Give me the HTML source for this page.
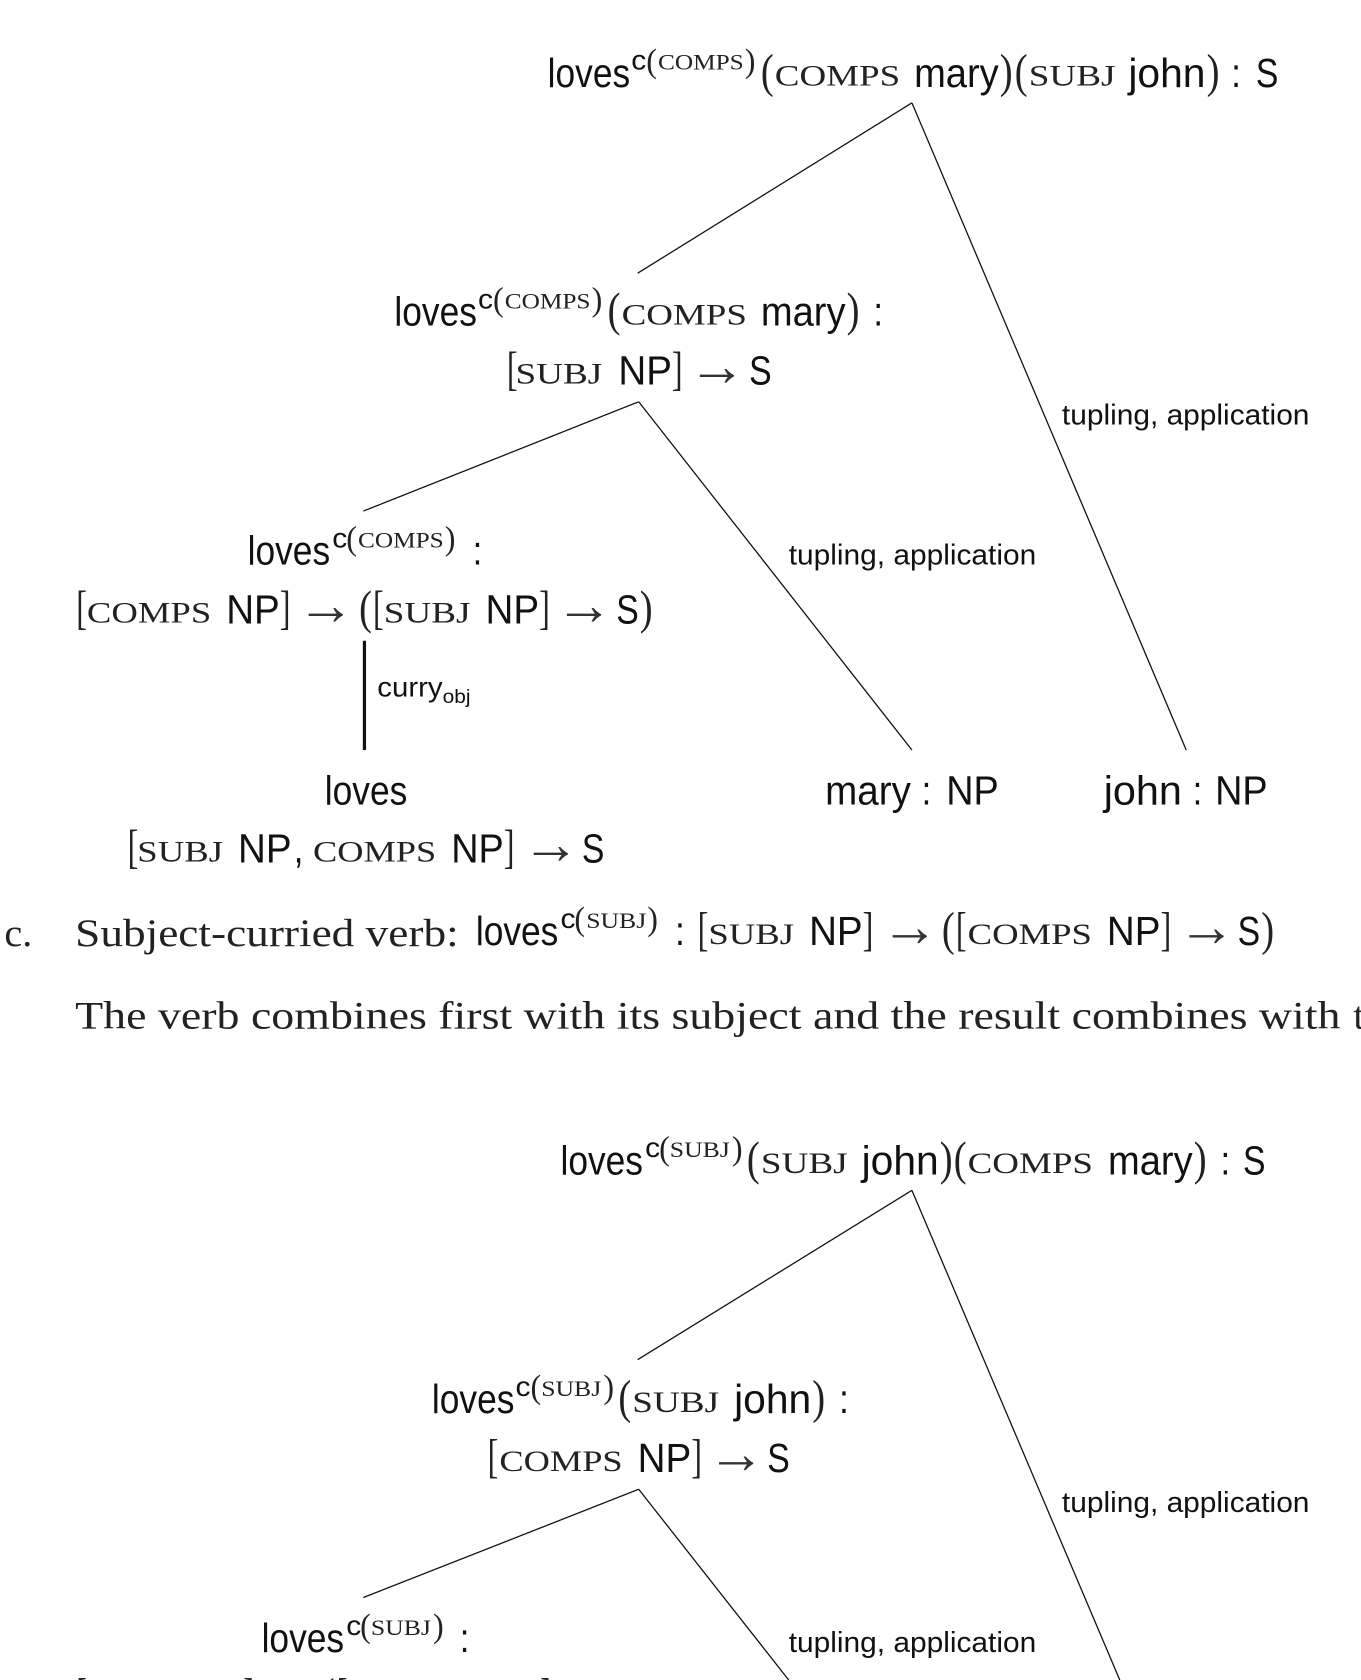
<!DOCTYPE html>
<html><head><meta charset="utf-8"><style>
html,body{margin:0;padding:0;background:#fff;overflow:hidden}
svg{display:block;position:absolute;left:0;top:0}
text{fill:#111;white-space:pre}
.s{font:38px "Liberation Sans",sans-serif;transform:translateY(-1px)}
.l{font:27px "Liberation Sans",sans-serif;transform:translateY(1px)}
.c{font:28px "Liberation Serif",serif;fill:#222;transform:translateY(-2px)}
.u{font:21px "Liberation Serif",serif;fill:#222}
.p{font:44px "Liberation Serif",serif;fill:#222;transform:translateY(-1px)}
.q{font:32px "Liberation Serif",serif;fill:#222;transform:translateY(2px)}
.k{font:26px "Liberation Sans",sans-serif}
.a{font:54px "Liberation Serif",serif;fill:#333}
.r{font:37px "Liberation Serif",serif;fill:#222}
line{stroke:#111;stroke-width:1.2}
</style></head><body>
<svg width="1361" height="1680" viewBox="0 0 1270 1568" xmlns="http://www.w3.org/2000/svg">
<!-- Tree 1 lines -->
<line x1="851" y1="96" x2="595" y2="255"/><line x1="851" y1="96" x2="1107" y2="700"/>
<line x1="596" y1="375" x2="339" y2="477"/><line x1="596" y1="375" x2="851" y2="700"/>
<line x1="340" y1="598" x2="340" y2="700" style="stroke-width:3"/>
<text class="l" x="991" y="395" textLength="231" lengthAdjust="spacingAndGlyphs">tupling, application</text>
<text class="l" x="736" y="526" textLength="231" lengthAdjust="spacingAndGlyphs">tupling, application</text>
<!-- Top node -->
<text class="s" x="511" y="82" textLength="77" lengthAdjust="spacingAndGlyphs">loves</text>
<text class="k" x="589" y="65" textLength="14" lengthAdjust="spacingAndGlyphs">c</text>
<text class="q" x="603" y="65" textLength="10" lengthAdjust="spacingAndGlyphs">(</text>
<text class="u" x="614" y="65" textLength="80" lengthAdjust="spacingAndGlyphs">COMPS</text>
<text class="q" x="695" y="65" textLength="10" lengthAdjust="spacingAndGlyphs">)</text>
<text class="p" x="710" y="82" textLength="12" lengthAdjust="spacingAndGlyphs">(</text>
<text class="c" x="723" y="82" textLength="117" lengthAdjust="spacingAndGlyphs">COMPS</text>
<text class="s" x="853" y="82" textLength="79" lengthAdjust="spacingAndGlyphs">mary</text>
<text class="p" x="933" y="82" textLength="12" lengthAdjust="spacingAndGlyphs">)</text>
<text class="p" x="947" y="82" textLength="12" lengthAdjust="spacingAndGlyphs">(</text>
<text class="c" x="960" y="82" textLength="81" lengthAdjust="spacingAndGlyphs">SUBJ</text>
<text class="s" x="1053" y="82" textLength="72" lengthAdjust="spacingAndGlyphs">john</text>
<text class="p" x="1126" y="82" textLength="12" lengthAdjust="spacingAndGlyphs">)</text>
<text class="s" x="1149" y="82" textLength="9" lengthAdjust="spacingAndGlyphs">:</text>
<text class="s" x="1172" y="82" textLength="21" lengthAdjust="spacingAndGlyphs">S</text>
<!-- Node 2 -->
<text class="s" x="368" y="305" textLength="77" lengthAdjust="spacingAndGlyphs">loves</text>
<text class="k" x="446" y="288" textLength="14" lengthAdjust="spacingAndGlyphs">c</text>
<text class="q" x="460" y="288" textLength="10" lengthAdjust="spacingAndGlyphs">(</text>
<text class="u" x="471" y="288" textLength="80" lengthAdjust="spacingAndGlyphs">COMPS</text>
<text class="q" x="552" y="288" textLength="10" lengthAdjust="spacingAndGlyphs">)</text>
<text class="p" x="567" y="305" textLength="12" lengthAdjust="spacingAndGlyphs">(</text>
<text class="c" x="580" y="305" textLength="117" lengthAdjust="spacingAndGlyphs">COMPS</text>
<text class="s" x="710" y="305" textLength="79" lengthAdjust="spacingAndGlyphs">mary</text>
<text class="p" x="790" y="305" textLength="12" lengthAdjust="spacingAndGlyphs">)</text>
<text class="s" x="815" y="305" textLength="9" lengthAdjust="spacingAndGlyphs">:</text>
<text class="p" x="473" y="360" textLength="10" lengthAdjust="spacingAndGlyphs">[</text>
<text class="c" x="481" y="360" textLength="81" lengthAdjust="spacingAndGlyphs">SUBJ</text>
<text class="s" x="577" y="360" textLength="50" lengthAdjust="spacingAndGlyphs">NP</text>
<text class="p" x="627" y="360" textLength="10" lengthAdjust="spacingAndGlyphs">]</text>
<text class="a" x="642" y="360" textLength="54" lengthAdjust="spacingAndGlyphs">→</text>
<text class="s" x="699" y="360" textLength="21" lengthAdjust="spacingAndGlyphs">S</text>
<!-- Node 3 -->
<text class="s" x="231" y="528" textLength="77" lengthAdjust="spacingAndGlyphs">loves</text>
<text class="k" x="310" y="511" textLength="14" lengthAdjust="spacingAndGlyphs">c</text>
<text class="q" x="323" y="511" textLength="10" lengthAdjust="spacingAndGlyphs">(</text>
<text class="u" x="334" y="511" textLength="80" lengthAdjust="spacingAndGlyphs">COMPS</text>
<text class="q" x="415" y="511" textLength="10" lengthAdjust="spacingAndGlyphs">)</text>
<text class="s" x="441" y="528" textLength="9" lengthAdjust="spacingAndGlyphs">:</text>
<text class="p" x="71" y="583" textLength="10" lengthAdjust="spacingAndGlyphs">[</text>
<text class="c" x="81" y="583" textLength="116" lengthAdjust="spacingAndGlyphs">COMPS</text>
<text class="s" x="211" y="583" textLength="50" lengthAdjust="spacingAndGlyphs">NP</text>
<text class="p" x="261" y="583" textLength="10" lengthAdjust="spacingAndGlyphs">]</text>
<text class="a" x="277" y="583" textLength="54" lengthAdjust="spacingAndGlyphs">→</text>
<text class="p" x="335" y="583" textLength="12" lengthAdjust="spacingAndGlyphs">(</text>
<text class="p" x="348" y="583" textLength="10" lengthAdjust="spacingAndGlyphs">[</text>
<text class="c" x="358" y="583" textLength="81" lengthAdjust="spacingAndGlyphs">SUBJ</text>
<text class="s" x="453" y="583" textLength="50" lengthAdjust="spacingAndGlyphs">NP</text>
<text class="p" x="503" y="583" textLength="10" lengthAdjust="spacingAndGlyphs">]</text>
<text class="a" x="518" y="583" textLength="54" lengthAdjust="spacingAndGlyphs">→</text>
<text class="s" x="575" y="583" textLength="21" lengthAdjust="spacingAndGlyphs">S</text>
<text class="p" x="597" y="583" textLength="12" lengthAdjust="spacingAndGlyphs">)</text>
<text class="k" x="352" y="650" textLength="61" lengthAdjust="spacingAndGlyphs">curry</text>
<text style="font:18px 'Liberation Sans',sans-serif" x="413" y="656" textLength="26" lengthAdjust="spacingAndGlyphs">obj</text>
<!-- Leaves -->
<text class="s" x="303" y="752" textLength="77" lengthAdjust="spacingAndGlyphs">loves</text>
<text class="s" x="770" y="752" textLength="80" lengthAdjust="spacingAndGlyphs">mary</text>
<text class="s" x="860" y="752" textLength="9" lengthAdjust="spacingAndGlyphs">:</text>
<text class="s" x="883" y="752" textLength="49" lengthAdjust="spacingAndGlyphs">NP</text>
<text class="s" x="1030" y="752" textLength="73" lengthAdjust="spacingAndGlyphs">john</text>
<text class="s" x="1113" y="752" textLength="9" lengthAdjust="spacingAndGlyphs">:</text>
<text class="s" x="1134" y="752" textLength="49" lengthAdjust="spacingAndGlyphs">NP</text>
<text class="p" x="119" y="806" textLength="10" lengthAdjust="spacingAndGlyphs">[</text>
<text class="c" x="128" y="806" textLength="80" lengthAdjust="spacingAndGlyphs">SUBJ</text>
<text class="s" x="222" y="806" textLength="50" lengthAdjust="spacingAndGlyphs">NP</text>
<text class="s" x="274" y="806" textLength="9" lengthAdjust="spacingAndGlyphs">,</text>
<text class="c" x="292" y="806" textLength="115" lengthAdjust="spacingAndGlyphs">COMPS</text>
<text class="s" x="421" y="806" textLength="49" lengthAdjust="spacingAndGlyphs">NP</text>
<text class="p" x="470" y="806" textLength="10" lengthAdjust="spacingAndGlyphs">]</text>
<text class="a" x="487" y="806" textLength="54" lengthAdjust="spacingAndGlyphs">→</text>
<text class="s" x="543" y="806" textLength="21" lengthAdjust="spacingAndGlyphs">S</text>
<!-- c. line -->
<text class="r" x="4" y="883" textLength="26" lengthAdjust="spacingAndGlyphs">c.</text>
<text class="r" x="70" y="883" textLength="358" lengthAdjust="spacingAndGlyphs">Subject-curried verb:</text>
<text class="s" x="444" y="883" textLength="77" lengthAdjust="spacingAndGlyphs">loves</text>
<text class="k" x="523" y="866" textLength="14" lengthAdjust="spacingAndGlyphs">c</text>
<text class="q" x="536" y="866" textLength="10" lengthAdjust="spacingAndGlyphs">(</text>
<text class="u" x="547" y="866" textLength="56" lengthAdjust="spacingAndGlyphs">SUBJ</text>
<text class="q" x="604" y="866" textLength="10" lengthAdjust="spacingAndGlyphs">)</text>
<text class="s" x="630" y="883" textLength="9" lengthAdjust="spacingAndGlyphs">:</text>
<text class="p" x="651" y="883" textLength="10" lengthAdjust="spacingAndGlyphs">[</text>
<text class="c" x="661" y="883" textLength="80" lengthAdjust="spacingAndGlyphs">SUBJ</text>
<text class="s" x="755" y="883" textLength="50" lengthAdjust="spacingAndGlyphs">NP</text>
<text class="p" x="805" y="883" textLength="10" lengthAdjust="spacingAndGlyphs">]</text>
<text class="a" x="822" y="883" textLength="54" lengthAdjust="spacingAndGlyphs">→</text>
<text class="p" x="879" y="883" textLength="12" lengthAdjust="spacingAndGlyphs">(</text>
<text class="p" x="892" y="883" textLength="10" lengthAdjust="spacingAndGlyphs">[</text>
<text class="c" x="903" y="883" textLength="116" lengthAdjust="spacingAndGlyphs">COMPS</text>
<text class="s" x="1033" y="883" textLength="50" lengthAdjust="spacingAndGlyphs">NP</text>
<text class="p" x="1083" y="883" textLength="10" lengthAdjust="spacingAndGlyphs">]</text>
<text class="a" x="1099" y="883" textLength="54" lengthAdjust="spacingAndGlyphs">→</text>
<text class="s" x="1155" y="883" textLength="21" lengthAdjust="spacingAndGlyphs">S</text>
<text class="p" x="1177" y="883" textLength="12" lengthAdjust="spacingAndGlyphs">)</text>
<text class="r" x="70" y="960" textLength="1181" lengthAdjust="spacingAndGlyphs">The verb combines first with its subject and the result combines with</text>
<text class="r" x="1263" y="960">t</text>
<!-- Tree 2 lines -->
<line x1="851" y1="1111" x2="595" y2="1269"/><line x1="851" y1="1111" x2="1045" y2="1568"/>
<line x1="596" y1="1390" x2="339" y2="1491"/><line x1="596" y1="1390" x2="736" y2="1568"/>
<text class="l" x="991" y="1410" textLength="231" lengthAdjust="spacingAndGlyphs">tupling, application</text>
<text class="l" x="736" y="1541" textLength="231" lengthAdjust="spacingAndGlyphs">tupling, application</text>
<!-- Tree 2 top -->
<text class="s" x="523" y="1097" textLength="77" lengthAdjust="spacingAndGlyphs">loves</text>
<text class="k" x="602" y="1080" textLength="14" lengthAdjust="spacingAndGlyphs">c</text>
<text class="q" x="615" y="1080" textLength="10" lengthAdjust="spacingAndGlyphs">(</text>
<text class="u" x="625" y="1080" textLength="56" lengthAdjust="spacingAndGlyphs">SUBJ</text>
<text class="q" x="683" y="1080" textLength="10" lengthAdjust="spacingAndGlyphs">)</text>
<text class="p" x="697" y="1097" textLength="12" lengthAdjust="spacingAndGlyphs">(</text>
<text class="c" x="710" y="1097" textLength="81" lengthAdjust="spacingAndGlyphs">SUBJ</text>
<text class="s" x="804" y="1097" textLength="72" lengthAdjust="spacingAndGlyphs">john</text>
<text class="p" x="877" y="1097" textLength="12" lengthAdjust="spacingAndGlyphs">)</text>
<text class="p" x="890" y="1097" textLength="12" lengthAdjust="spacingAndGlyphs">(</text>
<text class="c" x="903" y="1097" textLength="117" lengthAdjust="spacingAndGlyphs">COMPS</text>
<text class="s" x="1034" y="1097" textLength="79" lengthAdjust="spacingAndGlyphs">mary</text>
<text class="p" x="1114" y="1097" textLength="12" lengthAdjust="spacingAndGlyphs">)</text>
<text class="s" x="1139" y="1097" textLength="9" lengthAdjust="spacingAndGlyphs">:</text>
<text class="s" x="1160" y="1097" textLength="21" lengthAdjust="spacingAndGlyphs">S</text>
<!-- Tree 2 node 2 -->
<text class="s" x="403" y="1320" textLength="77" lengthAdjust="spacingAndGlyphs">loves</text>
<text class="k" x="481" y="1303" textLength="14" lengthAdjust="spacingAndGlyphs">c</text>
<text class="q" x="495" y="1303" textLength="10" lengthAdjust="spacingAndGlyphs">(</text>
<text class="u" x="505" y="1303" textLength="56" lengthAdjust="spacingAndGlyphs">SUBJ</text>
<text class="q" x="563" y="1303" textLength="10" lengthAdjust="spacingAndGlyphs">)</text>
<text class="p" x="577" y="1320" textLength="12" lengthAdjust="spacingAndGlyphs">(</text>
<text class="c" x="590" y="1320" textLength="81" lengthAdjust="spacingAndGlyphs">SUBJ</text>
<text class="s" x="685" y="1320" textLength="72" lengthAdjust="spacingAndGlyphs">john</text>
<text class="p" x="758" y="1320" textLength="12" lengthAdjust="spacingAndGlyphs">)</text>
<text class="s" x="783" y="1320" textLength="9" lengthAdjust="spacingAndGlyphs">:</text>
<text class="p" x="455" y="1375" textLength="10" lengthAdjust="spacingAndGlyphs">[</text>
<text class="c" x="466" y="1375" textLength="115" lengthAdjust="spacingAndGlyphs">COMPS</text>
<text class="s" x="595" y="1375" textLength="50" lengthAdjust="spacingAndGlyphs">NP</text>
<text class="p" x="645" y="1375" textLength="10" lengthAdjust="spacingAndGlyphs">]</text>
<text class="a" x="660" y="1375" textLength="54" lengthAdjust="spacingAndGlyphs">→</text>
<text class="s" x="716" y="1375" textLength="21" lengthAdjust="spacingAndGlyphs">S</text>
<!-- Tree 2 node 3 -->
<text class="s" x="244" y="1543" textLength="77" lengthAdjust="spacingAndGlyphs">loves</text>
<text class="k" x="323" y="1526" textLength="14" lengthAdjust="spacingAndGlyphs">c</text>
<text class="q" x="336" y="1526" textLength="10" lengthAdjust="spacingAndGlyphs">(</text>
<text class="u" x="346" y="1526" textLength="56" lengthAdjust="spacingAndGlyphs">SUBJ</text>
<text class="q" x="404" y="1526" textLength="10" lengthAdjust="spacingAndGlyphs">)</text>
<text class="s" x="429" y="1543" textLength="9" lengthAdjust="spacingAndGlyphs">:</text>
<!-- Clipped line at the bottom edge -->
<text class="p" x="71" y="1598" textLength="10" lengthAdjust="spacingAndGlyphs">[</text>
<text class="p" x="227" y="1598" textLength="10" lengthAdjust="spacingAndGlyphs">]</text>
<text class="p" x="300" y="1598" textLength="12" lengthAdjust="spacingAndGlyphs">(</text>
<text class="p" x="314" y="1598" textLength="10" lengthAdjust="spacingAndGlyphs">[</text>
<text class="p" x="504" y="1598" textLength="10" lengthAdjust="spacingAndGlyphs">]</text>
</svg>
</body></html>
